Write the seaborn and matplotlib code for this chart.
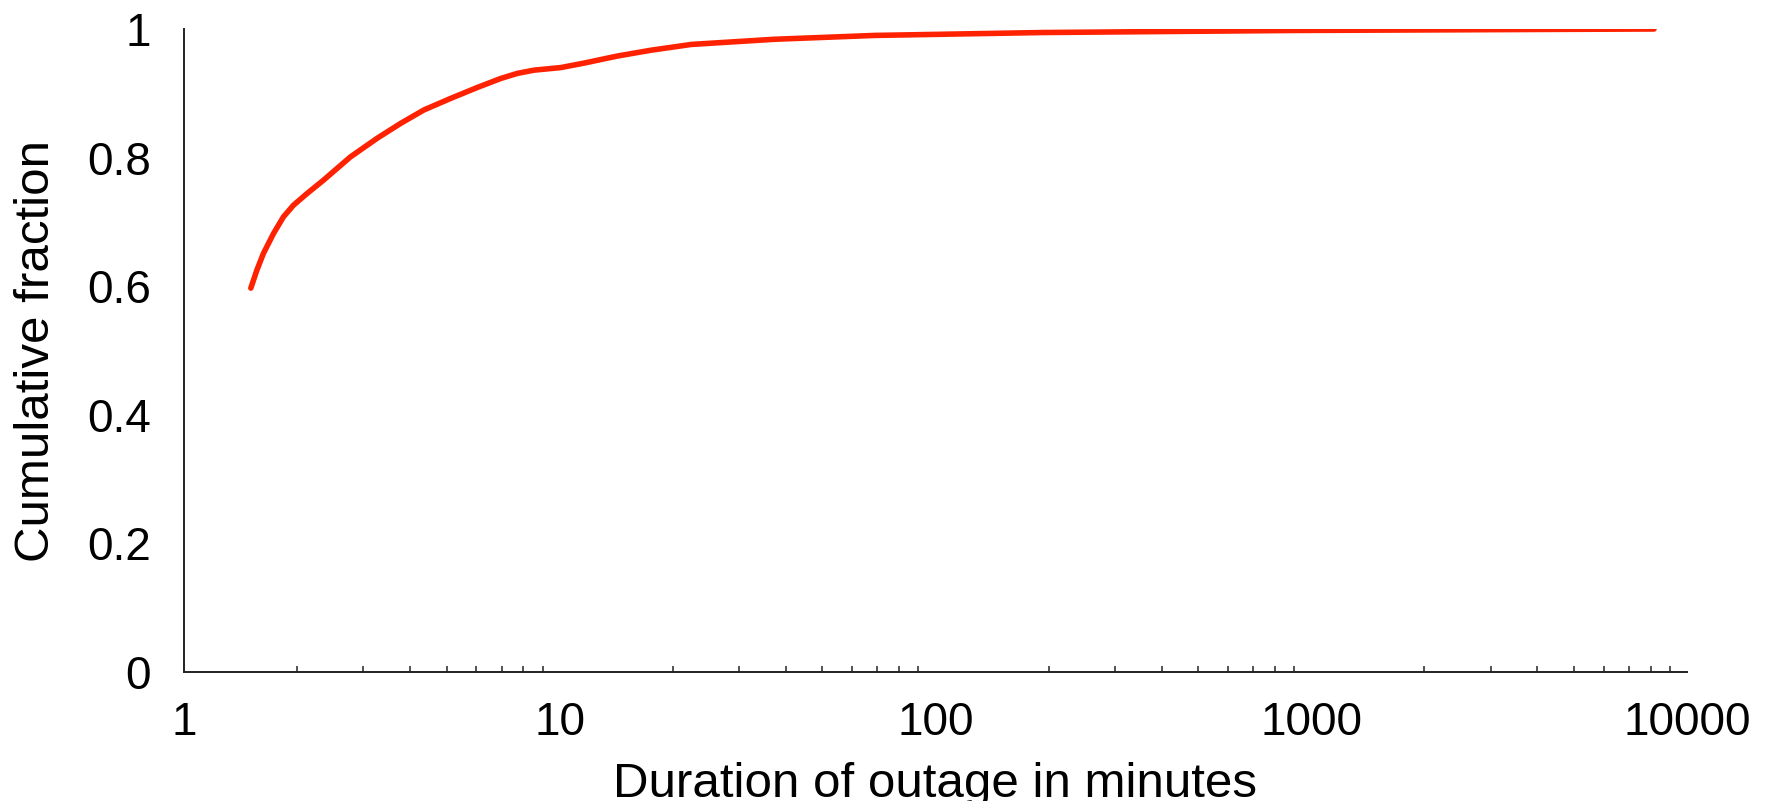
import matplotlib
matplotlib.use("Agg")
import matplotlib.pyplot as plt
import seaborn as sns
import pandas as pd
from matplotlib.ticker import FixedLocator, FixedFormatter, LogLocator, NullFormatter

duration_min = [1.506, 1.563, 1.627, 1.731, 1.840, 1.956, 2.124, 2.352, 2.772, 3.265,
                3.767, 4.346, 5.122, 6.031, 6.962, 7.713, 8.543, 10.06, 11.61, 14.25,
                17.49, 22.4, 37.2, 68.8, 192, 890, 4130, 8170]
cum_fraction = [0.597, 0.625, 0.651, 0.682, 0.708, 0.726, 0.744, 0.765, 0.801, 0.830,
                0.853, 0.874, 0.892, 0.909, 0.923, 0.931, 0.936, 0.940, 0.947, 0.958,
                0.967, 0.976, 0.984, 0.990, 0.9945, 0.9977, 0.9993, 1.0]
x_ticks = [1, 10, 100, 1000, 10000]
x_tick_labels = ["1", "10", "100", "1000", "10000"]
y_ticks = [0, 0.2, 0.4, 0.6, 0.8, 1]
y_tick_labels = ["0", "0.2", "0.4", "0.6", "0.8", "1"]

sns.set_theme(style="white")
plt.rcParams['font.family'] = ['Liberation Sans', 'DejaVu Sans']

df = pd.DataFrame({"duration": duration_min, "frac": cum_fraction})

fig = plt.figure(figsize=(17.79, 8.01), dpi=100)
ax = fig.add_axes([184/1779, 1 - 672/801, (1687 - 184)/1779, (672 - 29)/801])

sns.lineplot(data=df, x="duration", y="frac", ax=ax, color="#FF2200",
             linewidth=4.0, sort=True, estimator=None)
for ln in ax.get_lines():
    ln.set_solid_joinstyle("round")

ax.set_xscale("log")
ax.set_xlim(1, 10000)
ax.set_ylim(0, 1)

ax.xaxis.set_major_locator(FixedLocator(x_ticks))
ax.xaxis.set_major_formatter(FixedFormatter(x_tick_labels))
ax.xaxis.set_minor_locator(LogLocator(base=10, subs=range(2, 10)))
ax.xaxis.set_minor_formatter(NullFormatter())
ax.yaxis.set_major_locator(FixedLocator(y_ticks))
ax.yaxis.set_major_formatter(FixedFormatter(y_tick_labels))

for s in ["top", "right"]:
    ax.spines[s].set_visible(False)
for s in ["left", "bottom"]:
    ax.spines[s].set_color("#222222")
    ax.spines[s].set_linewidth(1.4)

ax.tick_params(axis="both", which="major", direction="in", length=6.5, width=1.3,
               color="#222222", labelsize=33, labelcolor="black")
ax.tick_params(axis="x", which="major", pad=21)
ax.tick_params(axis="y", which="major", pad=24)
ax.tick_params(axis="x", which="minor", direction="in", length=4, width=1.1,
               color="#222222", bottom=True)

ax.set_xlabel("Duration of outage in minutes", fontsize=35.5, labelpad=12, color="black")
ax.set_ylabel("Cumulative fraction", fontsize=35.5, labelpad=20, color="black")

fig.savefig("out.png", dpi=100, facecolor="white")
